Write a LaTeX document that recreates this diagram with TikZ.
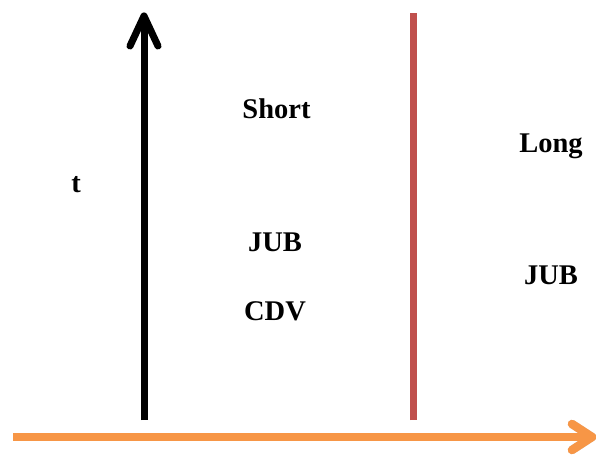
\documentclass[tikz,border=0pt]{standalone}
\usepackage{fontspec}
\setmainfont{Liberation Serif}
\usetikzlibrary{calc}
\definecolor{lineRed}{HTML}{C0504D}
\definecolor{lineOrange}{HTML}{F79646}
\tikzset{
  lbl/.style={font=\fontsize{28.5}{34}\selectfont\bfseries, inner sep=0pt, anchor=base},
  axis/.style={line width=7pt, line cap=round, line join=round},
  shade/.style={line width=7pt, line cap=round, line join=round, black, opacity=0.16},
}
\begin{document}
\begin{tikzpicture}[x=1pt, y=-1pt]
  \useasboundingbox (0,0) rectangle (596,457);

  % key points
  \coordinate (tbot) at (144,420);
  \coordinate (ttop) at (144,16);
  \coordinate (rbot) at (413,420);
  \coordinate (rtop) at (413,13);
  \coordinate (hl) at (13,437);
  \coordinate (hr) at (592,437);

  % soft drop shadows
  \begin{scope}[shift={(2.5,3.5)}]
    \draw[shade, line cap=butt] (tbot) -- (ttop);
    \draw[shade] ($(ttop)+(-14,30)$) -- (ttop) -- ($(ttop)+(14,30)$);
    \draw[shade, line cap=butt] (rbot) -- (rtop);
    \draw[shade, line width=8.5pt, line cap=butt] (hl) -- (hr);
    \draw[shade, line width=8.5pt] ($(hr)+(-20,-13)$) -- (hr) -- ($(hr)+(-20,13)$);
  \end{scope}

  % time axis (black, upward)
  \draw[axis, black, line cap=butt] (tbot) -- (ttop);
  \draw[axis, black] ($(ttop)+(-14,30)$) -- (ttop) -- ($(ttop)+(14,30)$);

  % divider (red)
  \draw[axis, lineRed, line cap=butt] (rbot) -- (rtop);

  % horizontal axis (orange)
  \draw[axis, lineOrange, line width=8.5pt, line cap=butt] (hl) -- (hr);
  \draw[axis, lineOrange, line width=8.5pt] ($(hr)+(-20,-13)$) -- (hr) -- ($(hr)+(-20,13)$);

  % labels
  \node[lbl] (t) at (76,192) {t};
  \node[lbl] (short) at (276.5,119) {Short};
  \node[lbl] (jub1) at (275,251) {JUB};
  \node[lbl] (cdv) at (275,320) {CDV};
  \node[lbl] (long) at (551,153) {Long};
  \node[lbl] (jub2) at (551,284) {JUB};
\end{tikzpicture}
\end{document}
